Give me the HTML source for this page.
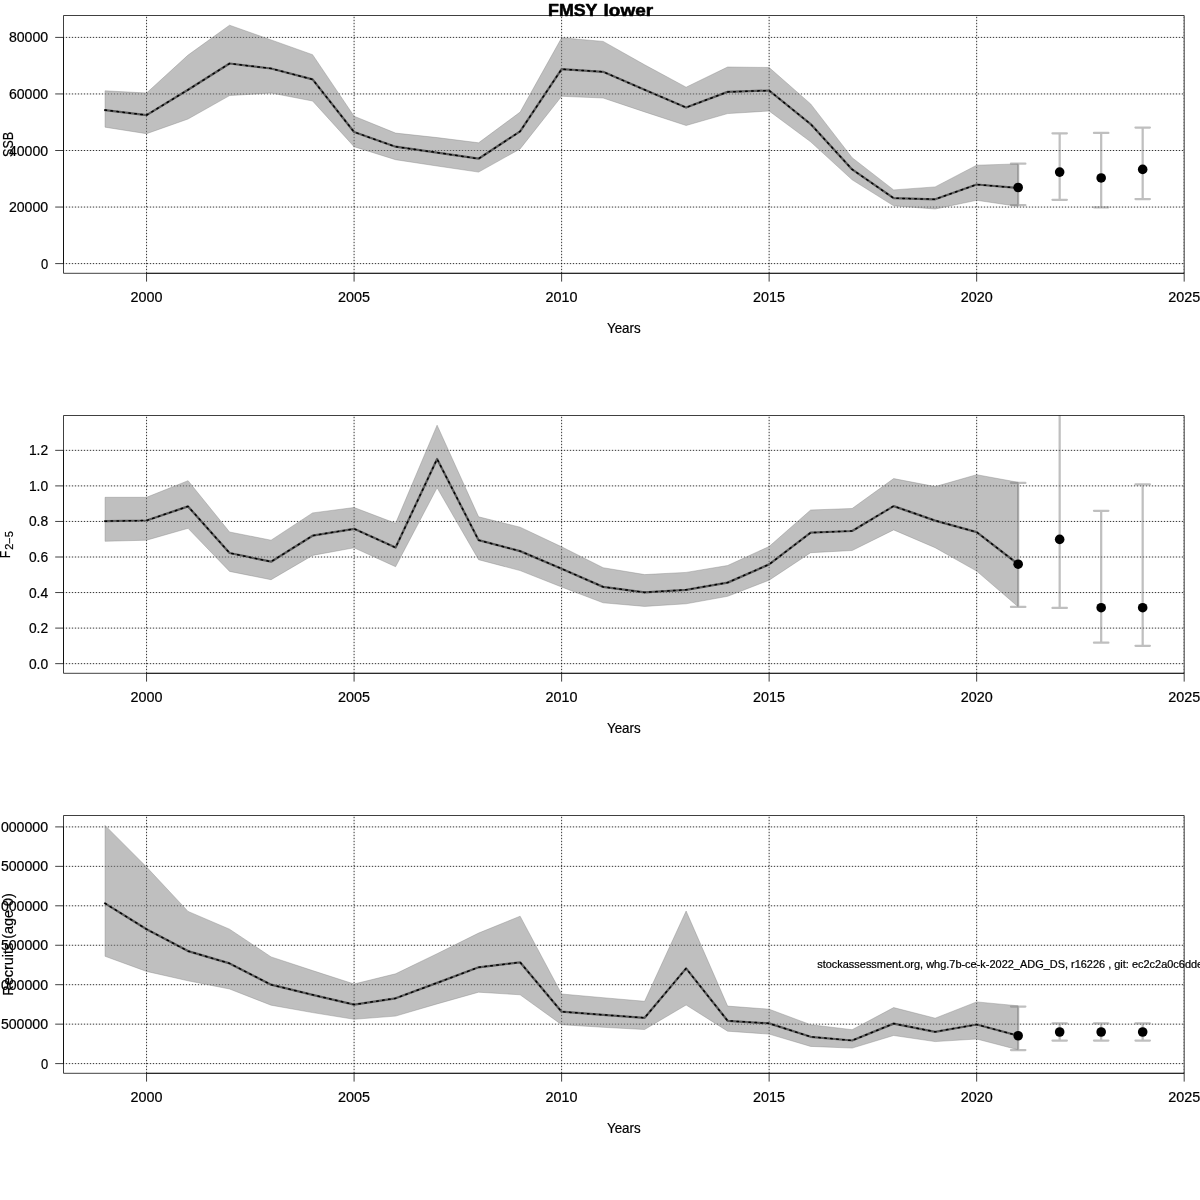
<!DOCTYPE html>
<html><head><meta charset="utf-8"><title>FMSY lower</title>
<style>html,body{margin:0;padding:0;background:#fff}body{width:1200px;height:1200px;overflow:hidden}</style></head>
<body>
<svg width="1200" height="1200" viewBox="0 0 1200 1200" style="display:block;font-family:'Liberation Sans',sans-serif" stroke-linejoin="round">
<rect width="1200" height="1200" fill="#fff"/>
<defs>
<clipPath id="c0"><rect x="63.5" y="15.5" width="1120.7" height="257.8"/></clipPath>
<clipPath id="c1"><rect x="63.5" y="415.5" width="1120.7" height="257.8"/></clipPath>
<clipPath id="c2"><rect x="63.5" y="815.5" width="1120.7" height="257.8"/></clipPath>
<mask id="m"><rect width="1200" height="1200" fill="#fff"/></mask>
</defs>
<g mask="url(#m)">
<g id="p0">
<g fill="none" stroke="#000" stroke-width="0.8" stroke-dasharray="1.4 1.6" clip-path="url(#c0)"><path d="M146.56 273.3V15.5M354.09 273.3V15.5M561.61 273.3V15.5M769.13 273.3V15.5M976.66 273.3V15.5M1184.18 273.3V15.5" stroke-dashoffset="-0.1"/><path d="M63.5 37.4H1184.2M63.5 93.95H1184.2M63.5 150.5H1184.2M63.5 207.05H1184.2M63.5 263.6H1184.2" stroke-dashoffset="0.7"/></g>
<polygon points="105.06,127.2 146.56,133.7 188.06,119 229.57,95.6 271.08,93 312.58,101 354.09,146.7 395.59,159.7 437.1,166 478.6,172.1 520.11,148.9 561.61,96.3 603.12,98 644.62,111.9 686.12,125.5 727.63,113.6 769.13,111 810.64,141.8 852.14,179.8 893.65,205.8 935.15,209 976.66,200.3 1018.16,206.4 1018.16,163.9 976.66,165.2 935.15,186.9 893.65,189.9 852.14,157.7 810.64,103.9 769.13,67.5 727.63,67 686.12,87.2 644.62,64.8 603.12,41.4 561.61,37.8 520.11,112.1 478.6,142.8 437.1,137.6 395.59,133.1 354.09,116.2 312.58,54.7 271.08,39.9 229.57,25.2 188.06,55.1 146.56,93 105.06,90.8" fill="rgba(128,128,128,0.5)" stroke="rgba(128,128,128,0.5)" stroke-width="0.75"/>
<polyline points="105.06,110.1 146.56,115.1 188.06,89.8 229.57,63.5 271.08,68.5 312.58,79.4 354.09,132 395.59,146.7 437.1,152.6 478.6,158.7 520.11,131.4 561.61,69.2 603.12,71.8 644.62,89.8 686.12,107.5 727.63,91.9 769.13,90.5 810.64,124.1 852.14,169.4 893.65,198.2 935.15,199.3 976.66,184.5 1018.16,188" fill="none" stroke="#5c5c5c" stroke-width="2.25" stroke-linejoin="round" stroke-linecap="round"/>
<polyline points="105.06,110.1 146.56,115.1 188.06,89.8 229.57,63.5 271.08,68.5 312.58,79.4 354.09,132 395.59,146.7 437.1,152.6 478.6,158.7 520.11,131.4 561.61,69.2 603.12,71.8 644.62,89.8 686.12,107.5 727.63,91.9 769.13,90.5 810.64,124.1 852.14,169.4 893.65,198.2 935.15,199.3 976.66,184.5 1018.16,188" fill="none" stroke="#000" stroke-width="1.5" stroke-dasharray="1.5 4.5" stroke-linejoin="round" stroke-linecap="round"/>
<g clip-path="url(#c0)" stroke="rgba(128,128,128,0.5)" stroke-width="2.25" stroke-linecap="round" fill="none">
<path d="M1018.16 163.7V205.2M1010.96 163.7H1025.37M1010.96 205.2H1025.37"/>
<path d="M1059.67 133.25V199.85M1052.47 133.25H1066.87M1052.47 199.85H1066.87"/>
<path d="M1101.17 132.95V207.35M1093.97 132.95H1108.38M1093.97 207.35H1108.38"/>
<path d="M1142.68 127.55V199.1M1135.48 127.55H1149.88M1135.48 199.1H1149.88"/>
</g>
<circle cx="1018.16" cy="187.5" r="4.8" fill="#000"/>
<circle cx="1059.67" cy="172.1" r="4.8" fill="#000"/>
<circle cx="1101.17" cy="177.95" r="4.8" fill="#000"/>
<circle cx="1142.68" cy="169.4" r="4.8" fill="#000"/>
<rect x="63.5" y="15.5" width="1120.7" height="257.8" fill="none" stroke="#000" stroke-width="0.75"/>
<path d="M146.56 273.3H1184.18M146.56 273.3v8.3M354.09 273.3v8.3M561.61 273.3v8.3M769.13 273.3v8.3M976.66 273.3v8.3M1184.18 273.3v8.3M63.5 37.4V263.6M63.5 37.4h-8.3M63.5 93.95h-8.3M63.5 150.5h-8.3M63.5 207.05h-8.3M63.5 263.6h-8.3" fill="none" stroke="#000" stroke-width="0.75"/>
<text stroke="#000" stroke-width="0.22" x="146.56" y="301.9" font-size="14.1" text-anchor="middle" textLength="32" lengthAdjust="spacingAndGlyphs">2000</text>
<text stroke="#000" stroke-width="0.22" x="354.09" y="301.9" font-size="14.1" text-anchor="middle" textLength="32" lengthAdjust="spacingAndGlyphs">2005</text>
<text stroke="#000" stroke-width="0.22" x="561.61" y="301.9" font-size="14.1" text-anchor="middle" textLength="32" lengthAdjust="spacingAndGlyphs">2010</text>
<text stroke="#000" stroke-width="0.22" x="769.13" y="301.9" font-size="14.1" text-anchor="middle" textLength="32" lengthAdjust="spacingAndGlyphs">2015</text>
<text stroke="#000" stroke-width="0.22" x="976.66" y="301.9" font-size="14.1" text-anchor="middle" textLength="32" lengthAdjust="spacingAndGlyphs">2020</text>
<text stroke="#000" stroke-width="0.22" x="1184.18" y="301.9" font-size="14.1" text-anchor="middle" textLength="32" lengthAdjust="spacingAndGlyphs">2025</text>
<text stroke="#000" stroke-width="0.22" x="623.85" y="333" font-size="14.1" text-anchor="middle" textLength="33.7" lengthAdjust="spacingAndGlyphs">Years</text>
<text stroke="#000" stroke-width="0.22" x="48.1" y="41.9" font-size="14.1" text-anchor="end" textLength="39.2" lengthAdjust="spacingAndGlyphs">80000</text>
<text stroke="#000" stroke-width="0.22" x="48.1" y="98.9" font-size="14.1" text-anchor="end" textLength="39.2" lengthAdjust="spacingAndGlyphs">60000</text>
<text stroke="#000" stroke-width="0.22" x="48.1" y="155.9" font-size="14.1" text-anchor="end" textLength="39.2" lengthAdjust="spacingAndGlyphs">40000</text>
<text stroke="#000" stroke-width="0.22" x="48.1" y="211.9" font-size="14.1" text-anchor="end" textLength="39.2" lengthAdjust="spacingAndGlyphs">20000</text>
<text stroke="#000" stroke-width="0.22" x="48.1" y="268.9" font-size="14.1" text-anchor="end" textLength="7.2" lengthAdjust="spacingAndGlyphs">0</text>
</g>
<g id="p1">
<g fill="none" stroke="#000" stroke-width="0.8" stroke-dasharray="1.4 1.6" clip-path="url(#c1)"><path d="M146.56 673.3V415.5M354.09 673.3V415.5M561.61 673.3V415.5M769.13 673.3V415.5M976.66 673.3V415.5M1184.18 673.3V415.5" stroke-dashoffset="-0.1"/><path d="M63.5 450.35H1184.2M63.5 485.9H1184.2M63.5 521.45H1184.2M63.5 557H1184.2M63.5 592.55H1184.2M63.5 628.1H1184.2M63.5 663.65H1184.2" stroke-dashoffset="0.7"/></g>
<polygon points="105.06,541.3 146.56,540.2 188.06,528.3 229.57,571.4 271.08,579.7 312.58,555.4 354.09,547.8 395.59,566.7 437.1,487.8 478.6,559.7 520.11,570.6 561.61,587 603.12,602.8 644.62,606.4 686.12,603.8 727.63,596.3 769.13,580.2 810.64,552.7 852.14,550.5 893.65,529.9 935.15,547.7 976.66,571.1 1018.16,606.8 1018.16,482.3 976.66,474.7 935.15,486.6 893.65,478.6 852.14,508.5 810.64,510 769.13,546.5 727.63,565.5 686.12,572.4 644.62,574.6 603.12,567.7 561.61,546.8 520.11,527.2 478.6,516.8 437.1,425.2 395.59,523.3 354.09,507.5 312.58,512.9 271.08,540.2 229.57,532 188.06,480.7 146.56,497.3 105.06,497.3" fill="rgba(128,128,128,0.5)" stroke="rgba(128,128,128,0.5)" stroke-width="0.75"/>
<polyline points="105.06,521.2 146.56,520.5 188.06,506.4 229.57,553 271.08,561.7 312.58,535.7 354.09,528.8 395.59,547.6 437.1,459 478.6,540.2 520.11,551.1 561.61,568.7 603.12,586.9 644.62,592.4 686.12,589.8 727.63,582.6 769.13,564.4 810.64,532.7 852.14,531 893.65,506.1 935.15,520.6 976.66,532.1 1018.16,564.2" fill="none" stroke="#5c5c5c" stroke-width="2.25" stroke-linejoin="round" stroke-linecap="round"/>
<polyline points="105.06,521.2 146.56,520.5 188.06,506.4 229.57,553 271.08,561.7 312.58,535.7 354.09,528.8 395.59,547.6 437.1,459 478.6,540.2 520.11,551.1 561.61,568.7 603.12,586.9 644.62,592.4 686.12,589.8 727.63,582.6 769.13,564.4 810.64,532.7 852.14,531 893.65,506.1 935.15,520.6 976.66,532.1 1018.16,564.2" fill="none" stroke="#000" stroke-width="1.5" stroke-dasharray="1.5 4.5" stroke-linejoin="round" stroke-linecap="round"/>
<g clip-path="url(#c1)" stroke="rgba(128,128,128,0.5)" stroke-width="2.25" stroke-linecap="round" fill="none">
<path d="M1018.16 482.9V606.9M1010.96 482.9H1025.37M1010.96 606.9H1025.37"/>
<path d="M1059.67 380V607.9M1052.47 380H1066.87M1052.47 607.9H1066.87"/>
<path d="M1101.17 510.8V642.7M1093.97 510.8H1108.38M1093.97 642.7H1108.38"/>
<path d="M1142.68 484.4V645.8M1135.48 484.4H1149.88M1135.48 645.8H1149.88"/>
</g>
<circle cx="1018.16" cy="564.2" r="4.8" fill="#000"/>
<circle cx="1059.67" cy="539.4" r="4.8" fill="#000"/>
<circle cx="1101.17" cy="607.7" r="4.8" fill="#000"/>
<circle cx="1142.68" cy="607.7" r="4.8" fill="#000"/>
<rect x="63.5" y="415.5" width="1120.7" height="257.8" fill="none" stroke="#000" stroke-width="0.75"/>
<path d="M146.56 673.3H1184.18M146.56 673.3v8.3M354.09 673.3v8.3M561.61 673.3v8.3M769.13 673.3v8.3M976.66 673.3v8.3M1184.18 673.3v8.3M63.5 450.35V663.65M63.5 450.35h-8.3M63.5 485.9h-8.3M63.5 521.45h-8.3M63.5 557h-8.3M63.5 592.55h-8.3M63.5 628.1h-8.3M63.5 663.65h-8.3" fill="none" stroke="#000" stroke-width="0.75"/>
<text stroke="#000" stroke-width="0.22" x="146.56" y="701.9" font-size="14.1" text-anchor="middle" textLength="32" lengthAdjust="spacingAndGlyphs">2000</text>
<text stroke="#000" stroke-width="0.22" x="354.09" y="701.9" font-size="14.1" text-anchor="middle" textLength="32" lengthAdjust="spacingAndGlyphs">2005</text>
<text stroke="#000" stroke-width="0.22" x="561.61" y="701.9" font-size="14.1" text-anchor="middle" textLength="32" lengthAdjust="spacingAndGlyphs">2010</text>
<text stroke="#000" stroke-width="0.22" x="769.13" y="701.9" font-size="14.1" text-anchor="middle" textLength="32" lengthAdjust="spacingAndGlyphs">2015</text>
<text stroke="#000" stroke-width="0.22" x="976.66" y="701.9" font-size="14.1" text-anchor="middle" textLength="32" lengthAdjust="spacingAndGlyphs">2020</text>
<text stroke="#000" stroke-width="0.22" x="1184.18" y="701.9" font-size="14.1" text-anchor="middle" textLength="32" lengthAdjust="spacingAndGlyphs">2025</text>
<text stroke="#000" stroke-width="0.22" x="623.85" y="733" font-size="14.1" text-anchor="middle" textLength="33.7" lengthAdjust="spacingAndGlyphs">Years</text>
<text stroke="#000" stroke-width="0.22" x="48.1" y="454.9" font-size="14.1" text-anchor="end" textLength="19.2" lengthAdjust="spacingAndGlyphs">1.2</text>
<text stroke="#000" stroke-width="0.22" x="48.1" y="490.9" font-size="14.1" text-anchor="end" textLength="19.2" lengthAdjust="spacingAndGlyphs">1.0</text>
<text stroke="#000" stroke-width="0.22" x="48.1" y="525.9" font-size="14.1" text-anchor="end" textLength="19.2" lengthAdjust="spacingAndGlyphs">0.8</text>
<text stroke="#000" stroke-width="0.22" x="48.1" y="561.9" font-size="14.1" text-anchor="end" textLength="19.2" lengthAdjust="spacingAndGlyphs">0.6</text>
<text stroke="#000" stroke-width="0.22" x="48.1" y="597.9" font-size="14.1" text-anchor="end" textLength="19.2" lengthAdjust="spacingAndGlyphs">0.4</text>
<text stroke="#000" stroke-width="0.22" x="48.1" y="632.9" font-size="14.1" text-anchor="end" textLength="19.2" lengthAdjust="spacingAndGlyphs">0.2</text>
<text stroke="#000" stroke-width="0.22" x="48.1" y="668.9" font-size="14.1" text-anchor="end" textLength="19.2" lengthAdjust="spacingAndGlyphs">0.0</text>
</g>
<g id="p2">
<g fill="none" stroke="#000" stroke-width="0.8" stroke-dasharray="1.4 1.6" clip-path="url(#c2)"><path d="M146.56 1073.3V815.5M354.09 1073.3V815.5M561.61 1073.3V815.5M769.13 1073.3V815.5M976.66 1073.3V815.5M1184.18 1073.3V815.5" stroke-dashoffset="-0.1"/><path d="M63.5 826.9H1184.2M63.5 866.35H1184.2M63.5 905.8H1184.2M63.5 945.25H1184.2M63.5 984.7H1184.2M63.5 1024.15H1184.2M63.5 1063.6H1184.2" stroke-dashoffset="0.7"/></g>
<polygon points="105.06,956.3 146.56,971.4 188.06,980.8 229.57,989 271.08,1005.2 312.58,1012.6 354.09,1019.3 395.59,1016.1 437.1,1003.9 478.6,992.2 520.11,994.8 561.61,1024.7 603.12,1027.3 644.62,1029.5 686.12,1005 727.63,1031.2 769.13,1034.1 810.64,1046.4 852.14,1048.1 893.65,1035.5 935.15,1041.6 976.66,1039 1018.16,1049.8 1018.16,1005.8 976.66,1001.9 935.15,1018.2 893.65,1007.6 852.14,1029.7 810.64,1024.7 769.13,1009.2 727.63,1006.1 686.12,911 644.62,1001.3 603.12,997.7 561.61,994 520.11,916.2 478.6,933.1 437.1,953.7 395.59,973.8 354.09,984 312.58,970.6 271.08,956.9 229.57,929.2 188.06,911.4 146.56,867 105.06,825.4" fill="rgba(128,128,128,0.5)" stroke="rgba(128,128,128,0.5)" stroke-width="0.75"/>
<polyline points="105.06,903.4 146.56,929.2 188.06,951.1 229.57,963.4 271.08,984.7 312.58,994.8 354.09,1004.6 395.59,998.3 437.1,982.9 478.6,967.3 520.11,962.3 561.61,1011.7 603.12,1014.8 644.62,1017.8 686.12,968.4 727.63,1020.8 769.13,1023.4 810.64,1036.8 852.14,1040.5 893.65,1023.6 935.15,1031.8 976.66,1024.5 1018.16,1035.7" fill="none" stroke="#5c5c5c" stroke-width="2.25" stroke-linejoin="round" stroke-linecap="round"/>
<polyline points="105.06,903.4 146.56,929.2 188.06,951.1 229.57,963.4 271.08,984.7 312.58,994.8 354.09,1004.6 395.59,998.3 437.1,982.9 478.6,967.3 520.11,962.3 561.61,1011.7 603.12,1014.8 644.62,1017.8 686.12,968.4 727.63,1020.8 769.13,1023.4 810.64,1036.8 852.14,1040.5 893.65,1023.6 935.15,1031.8 976.66,1024.5 1018.16,1035.7" fill="none" stroke="#000" stroke-width="1.5" stroke-dasharray="1.5 4.5" stroke-linejoin="round" stroke-linecap="round"/>
<g clip-path="url(#c2)" stroke="rgba(128,128,128,0.5)" stroke-width="2.25" stroke-linecap="round" fill="none">
<path d="M1018.16 1006.5V1050M1010.96 1006.5H1025.37M1010.96 1050H1025.37"/>
<path d="M1059.67 1023.3V1040.55M1052.47 1023.3H1066.87M1052.47 1040.55H1066.87"/>
<path d="M1101.17 1023.3V1040.55M1093.97 1023.3H1108.38M1093.97 1040.55H1108.38"/>
<path d="M1142.68 1023.3V1040.55M1135.48 1023.3H1149.88M1135.48 1040.55H1149.88"/>
</g>
<circle cx="1018.16" cy="1035.75" r="4.8" fill="#000"/>
<circle cx="1059.67" cy="1032" r="4.8" fill="#000"/>
<circle cx="1101.17" cy="1032" r="4.8" fill="#000"/>
<circle cx="1142.68" cy="1032" r="4.8" fill="#000"/>
<rect x="63.5" y="815.5" width="1120.7" height="257.8" fill="none" stroke="#000" stroke-width="0.75"/>
<path d="M146.56 1073.3H1184.18M146.56 1073.3v8.3M354.09 1073.3v8.3M561.61 1073.3v8.3M769.13 1073.3v8.3M976.66 1073.3v8.3M1184.18 1073.3v8.3M63.5 826.9V1063.6M63.5 826.9h-8.3M63.5 866.35h-8.3M63.5 905.8h-8.3M63.5 945.25h-8.3M63.5 984.7h-8.3M63.5 1024.15h-8.3M63.5 1063.6h-8.3" fill="none" stroke="#000" stroke-width="0.75"/>
<text stroke="#000" stroke-width="0.22" x="146.56" y="1101.9" font-size="14.1" text-anchor="middle" textLength="32" lengthAdjust="spacingAndGlyphs">2000</text>
<text stroke="#000" stroke-width="0.22" x="354.09" y="1101.9" font-size="14.1" text-anchor="middle" textLength="32" lengthAdjust="spacingAndGlyphs">2005</text>
<text stroke="#000" stroke-width="0.22" x="561.61" y="1101.9" font-size="14.1" text-anchor="middle" textLength="32" lengthAdjust="spacingAndGlyphs">2010</text>
<text stroke="#000" stroke-width="0.22" x="769.13" y="1101.9" font-size="14.1" text-anchor="middle" textLength="32" lengthAdjust="spacingAndGlyphs">2015</text>
<text stroke="#000" stroke-width="0.22" x="976.66" y="1101.9" font-size="14.1" text-anchor="middle" textLength="32" lengthAdjust="spacingAndGlyphs">2020</text>
<text stroke="#000" stroke-width="0.22" x="1184.18" y="1101.9" font-size="14.1" text-anchor="middle" textLength="32" lengthAdjust="spacingAndGlyphs">2025</text>
<text stroke="#000" stroke-width="0.22" x="623.85" y="1133" font-size="14.1" text-anchor="middle" textLength="33.7" lengthAdjust="spacingAndGlyphs">Years</text>
<text stroke="#000" stroke-width="0.22" x="48.1" y="831.9" font-size="14.1" text-anchor="end" textLength="47.2" lengthAdjust="spacingAndGlyphs">000000</text>
<text stroke="#000" stroke-width="0.22" x="48.1" y="870.9" font-size="14.1" text-anchor="end" textLength="47.2" lengthAdjust="spacingAndGlyphs">500000</text>
<text stroke="#000" stroke-width="0.22" x="48.1" y="910.9" font-size="14.1" text-anchor="end" textLength="47.2" lengthAdjust="spacingAndGlyphs">000000</text>
<text stroke="#000" stroke-width="0.22" x="48.1" y="949.9" font-size="14.1" text-anchor="end" textLength="47.2" lengthAdjust="spacingAndGlyphs">500000</text>
<text stroke="#000" stroke-width="0.22" x="48.1" y="989.9" font-size="14.1" text-anchor="end" textLength="47.2" lengthAdjust="spacingAndGlyphs">000000</text>
<text stroke="#000" stroke-width="0.22" x="48.1" y="1028.9" font-size="14.1" text-anchor="end" textLength="47.2" lengthAdjust="spacingAndGlyphs">500000</text>
<text stroke="#000" stroke-width="0.22" x="48.1" y="1068.9" font-size="14.1" text-anchor="end" textLength="7.2" lengthAdjust="spacingAndGlyphs">0</text>
</g>
<g transform="translate(13 144.4) rotate(-90)"><text stroke="#000" stroke-width="0.22" x="0" y="0" font-size="14.1" text-anchor="middle" textLength="25" lengthAdjust="spacingAndGlyphs">SSB</text></g>
<g transform="translate(10 544.4) rotate(-90)"><text stroke="#000" stroke-width="0.22" x="-13.95" y="0" font-size="14.1" text-anchor="start" textLength="7.5" lengthAdjust="spacingAndGlyphs">F</text><text stroke="#000" stroke-width="0.22" x="-5.35" y="3.1" font-size="10.0" text-anchor="start" textLength="18.6" lengthAdjust="spacingAndGlyphs">2−5</text></g>
<g transform="translate(13 944.4) rotate(-90)"><text stroke="#000" stroke-width="0.22" x="0" y="0" font-size="14.1" text-anchor="middle" textLength="102.5" lengthAdjust="spacingAndGlyphs">Recruits (age 0)</text></g>
<text x="548.0" y="15.6" font-size="16.6" font-weight="bold" stroke="#000" stroke-width="0.55" textLength="49.5" lengthAdjust="spacingAndGlyphs">FMSY</text>
<text x="603.6" y="15.6" font-size="16.6" font-weight="bold" stroke="#000" stroke-width="0.55" textLength="49.6" lengthAdjust="spacingAndGlyphs">lower</text>
<text stroke="#000" stroke-width="0.22" x="817.2" y="967.8" font-size="10.4" text-anchor="start" textLength="386" lengthAdjust="spacingAndGlyphs">stockassessment.org, whg.7b-ce-k-2022_ADG_DS, r16226 , git: ec2c2a0c6dde</text>
</g>
</svg>
</body></html>
